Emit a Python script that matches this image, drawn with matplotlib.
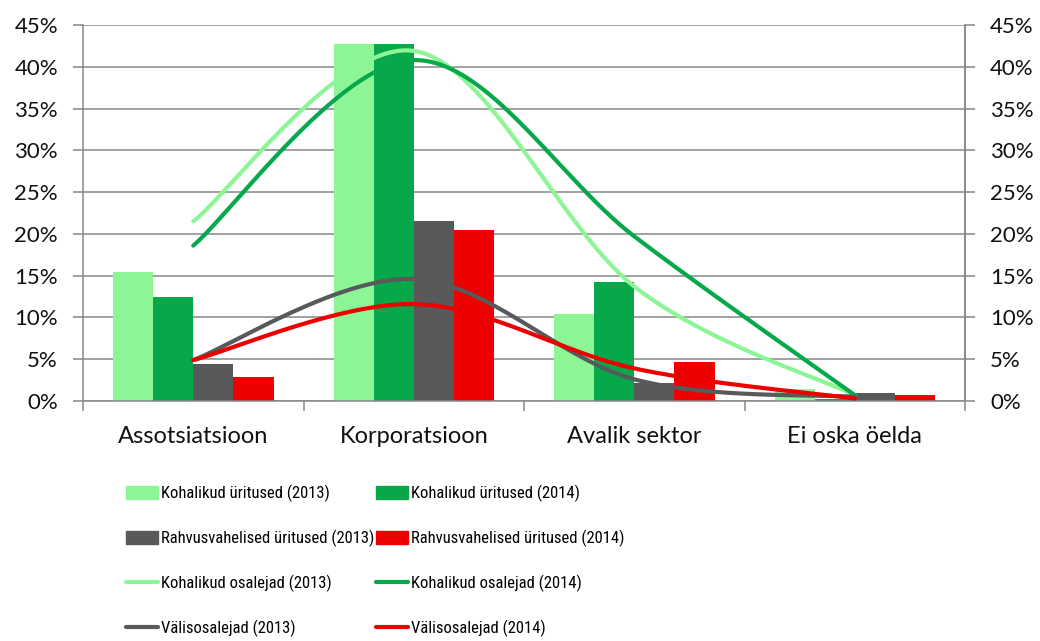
import numpy as np
import matplotlib
matplotlib.use("Agg")
import matplotlib.pyplot as plt
from matplotlib.patches import Patch
from matplotlib.lines import Line2D
from matplotlib import font_manager

plt.rcParams['font.family'] = ['Lato', 'DejaVu Sans']

categories = ["Assotsiatsioon", "Korporatsioon", "Avalik sektor", "Ei oska öelda"]

bar_labels = ["Kohalikud üritused (2013)", "Kohalikud üritused (2014)",
              "Rahvusvahelised üritused (2013)", "Rahvusvahelised üritused (2014)"]
kohalikud_uritused_2013 = [15.4, 42.7, 10.4, 1.4]
kohalikud_uritused_2014 = [12.5, 42.7, 14.2, 0.2]
rahvusvahelised_uritused_2013 = [4.4, 21.5, 2.2, 1.0]
rahvusvahelised_uritused_2014 = [2.9, 20.5, 4.7, 0.7]

line_labels = ["Kohalikud osalejad (2013)", "Kohalikud osalejad (2014)",
               "Välisosalejad (2013)", "Välisosalejad (2014)"]
kohalikud_osalejad_2013 = [21.5, 41.9, 13.7, 0.7]
kohalikud_osalejad_2014 = [18.6, 40.8, 19.7, 0.7]
valisosalejad_2013 = [4.9, 14.6, 2.6, 0.5]
valisosalejad_2014 = [4.9, 11.6, 3.9, 0.3]

yticks = [0, 5, 10, 15, 20, 25, 30, 35, 40, 45]
ytick_labels = [f"{t}%" for t in yticks]

c_lg = "#8CF697"
c_dg = "#06A84A"
c_gr = "#58595B"
c_rd = "#EE0000"

# pick a condensed family for the legend if one is installed
installed = {f.name for f in font_manager.fontManager.ttflist}
legend_family = ['Lato', 'DejaVu Sans']
legend_size = 10.5
for fam, size in [("Roboto Condensed", 12.0), ("Liberation Sans Narrow", 11.5),
                  ("Open Sans Condensed", 12.0)]:
    if fam in installed:
        legend_family = [fam, 'DejaVu Sans']
        legend_size = size
        break


def smooth(xs, ys, n=60):
    xs = np.asarray(xs, float)
    ys = np.asarray(ys, float)
    P = np.column_stack([xs, ys])
    out = []
    for i in range(len(P) - 1):
        p0 = P[i - 1] if i > 0 else P[i]
        p1 = P[i]
        p2 = P[i + 1]
        p3 = P[i + 2] if i + 2 < len(P) else P[i + 1]
        c1 = p1 + (p2 - p0) / 6.0
        c2 = p2 - (p3 - p1) / 6.0
        t = np.linspace(0, 1, n)[:, None]
        seg = ((1 - t) ** 3) * p1 + 3 * ((1 - t) ** 2) * t * c1 + 3 * (1 - t) * t ** 2 * c2 + t ** 3 * p2
        out.append(seg if i == 0 else seg[1:])
    pts = np.vstack(out)
    return pts[:, 0], pts[:, 1]


fig = plt.figure(figsize=(10.4, 6.41), dpi=100)
ax = fig.add_axes([0.0798, 0.3744, 0.8482, 0.5866])

x = np.arange(len(categories))
w = 0.182
bar_series = [kohalikud_uritused_2013, kohalikud_uritused_2014,
              rahvusvahelised_uritused_2013, rahvusvahelised_uritused_2014]
bar_colors = [c_lg, c_dg, c_gr, c_rd]
offsets = [-1.5, -0.5, 0.5, 1.5]
for vals, col, off, lab in zip(bar_series, bar_colors, offsets, bar_labels):
    ax.bar(x + off * w, vals, width=w, color=col, zorder=2, label=lab, linewidth=0)

line_series = [kohalikud_osalejad_2013, kohalikud_osalejad_2014,
               valisosalejad_2013, valisosalejad_2014]
for vals, col in zip(line_series, bar_colors):
    sx, sy = smooth(x, vals)
    ax.plot(sx, sy, color=col, lw=3, solid_capstyle='round', zorder=3)

grid_c = "#878787"
txt_c = "#111111"
ax.set_xlim(-0.5, 3.5)
ax.set_ylim(0, 45)
ax.set_yticks(yticks)
ax.set_yticklabels(ytick_labels, fontsize=16, color=txt_c)
ax.yaxis.grid(True, color=grid_c, lw=1.1, zorder=0)
ax.set_axisbelow(True)
ax.set_xticks(x)
ax.set_xticklabels(categories, fontsize=17, color=txt_c)
ax.set_xticks(np.arange(-0.5, 4.0, 1.0), minor=True)
ax.tick_params(axis='x', which='major', length=0, pad=18)
ax.tick_params(axis='x', which='minor', length=7, width=1.1, color=grid_c, direction='out')
ax.tick_params(axis='y', length=7, width=1.1, color=grid_c, direction='out', pad=11)
ax.spines['top'].set_visible(False)
for s in ['left', 'right', 'bottom']:
    ax.spines[s].set_color(grid_c)
    ax.spines[s].set_linewidth(1.1)

ax2 = ax.twinx()
ax2.set_ylim(0, 45)
ax2.set_yticks(yticks)
ax2.set_yticklabels(ytick_labels, fontsize=16, color=txt_c)
ax2.tick_params(axis='y', length=7, width=1.1, color=grid_c, direction='out', pad=11)
for s in ['top', 'left', 'bottom']:
    ax2.spines[s].set_visible(False)
ax2.spines['right'].set_color(grid_c)
ax2.spines['right'].set_linewidth(1.1)

handles = [Patch(color=c, label=l) for c, l in zip(bar_colors, bar_labels)]
lhandles = [Line2D([], [], color=c, lw=3, solid_capstyle='round', label=l)
            for c, l in zip(bar_colors, line_labels)]
order = [handles[0], handles[2], lhandles[0], lhandles[2],
         handles[1], handles[3], lhandles[1], lhandles[3]]
fs_px = legend_size * 100 / 72.0
fig.legend(handles=order, labels=[h.get_label() for h in order], ncol=2,
           loc='upper left', bbox_to_anchor=(0.121, 0.244), frameon=False,
           prop={'family': legend_family, 'size': legend_size},
           handlelength=32 / fs_px, handleheight=14 / fs_px, handletextpad=3 / fs_px,
           labelspacing=(44.6 - fs_px) / fs_px, columnspacing=2 / fs_px,
           borderaxespad=0, borderpad=0)

fig.savefig("out.png", dpi=100)
